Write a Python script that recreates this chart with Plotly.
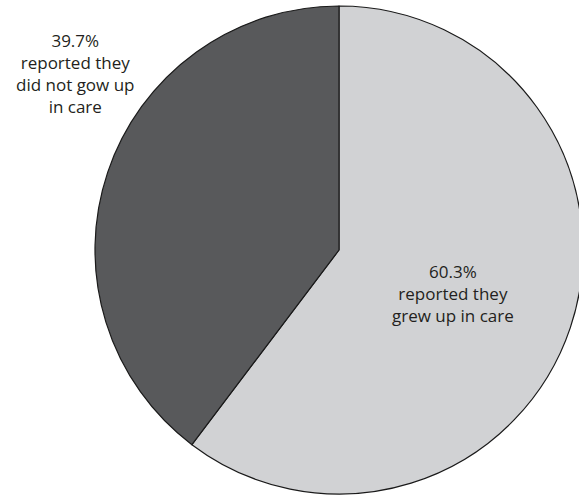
import plotly.graph_objects as go

labels = ["reported they grew up in care", "reported they did not gow up in care"]
values = [60.3, 39.7]
colors = ["#d1d2d4", "#58595b"]
annot_lines = [["60.3%", "reported they", "grew up in care"],
               ["39.7%", "reported they", "did not gow up", "in care"]]

W, H = 584, 496
cx, cy, r = 339, 250, 244

fig = go.Figure(go.Pie(
    labels=labels, values=values, sort=False, direction="clockwise", rotation=0,
    marker=dict(colors=colors, line=dict(color="#1a1a1a", width=1.2)),
    textinfo="none", hoverinfo="skip", showlegend=False,
    domain=dict(x=[(cx - r) / W, (cx + r) / W], y=[1 - (cy + r) / H, 1 - (cy - r) / H]),
))

font = dict(family="Open Sans, sans-serif", size=17, color="#231f20")
centres = [(453, 293), (75, 73)]  # block centres in pixels
for lines, (ax, ay) in zip(annot_lines, centres):
    fig.add_annotation(text="<br>".join(lines), x=ax / W, y=1 - ay / H,
                       xref="paper", yref="paper", showarrow=False, font=font,
                       align="center", xanchor="center", yanchor="middle")

fig.update_layout(width=W, height=H, autosize=False, margin=dict(l=0, r=0, t=0, b=0),
                  paper_bgcolor="white", plot_bgcolor="white")

fig.write_html("out.html", config={"displayModeBar": False},
               post_script="document.body.style.overflow='hidden';document.body.style.margin='0';")
